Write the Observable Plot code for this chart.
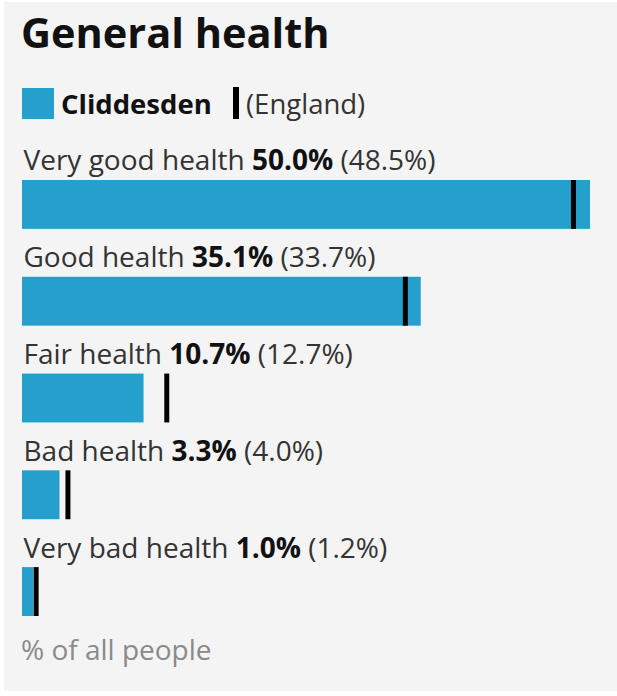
<!DOCTYPE html>
<html>
<head>
<meta charset="utf-8">
<script src="https://cdn.jsdelivr.net/npm/d3@7"></script>
<script src="https://cdn.jsdelivr.net/npm/@observablehq/plot@0.6"></script>
<style>
  html, body { margin: 0; padding: 0; background: #ffffff; }
  body { width: 617px; height: 696px; overflow: hidden; font-family: "Open Sans", sans-serif; }
  #panel { position: absolute; left: 4px; top: 2px; width: 613px; height: 689px; background: #f4f4f4; }
  #title { position: absolute; left: 17px; top: 10px; margin: 0; font-size: 41.5px; line-height: 1; font-weight: 700; color: #111; white-space: nowrap; }
  #legend { position: absolute; left: 0; top: 0; font-size: 27.5px; line-height: 1; color: #222; }
  #legend .sw { position: absolute; left: 18px; top: 86px; width: 32px; height: 31px; background: #259fcc; }
  #legend .nm { position: absolute; left: 57px; top: 88px; font-weight: 700; white-space: nowrap; color: #111; }
  #legend .mk { position: absolute; left: 229px; top: 85px; width: 6px; height: 32px; background: #000; }
  #legend .en { position: absolute; left: 242px; top: 88px; white-space: nowrap; color: #333; }
  #chart { position: absolute; left: -4px; top: 128px; }
  #foot { position: absolute; left: 17px; top: 633px; font-size: 28px; line-height: 1; color: #8a8a8a; white-space: nowrap; }
</style>
</head>
<body>
<div id="panel">
  <h2 id="title">General health</h2>
  <div id="legend"><span class="sw"></span><span class="nm">Cliddesden</span><span class="mk"></span><span class="en">(England)</span></div>
  <div id="chart"></div>
  <div id="foot">% of all people</div>
</div>
<script>
const categories = ["Very good health", "Good health", "Fair health", "Bad health", "Very bad health"];
const localValues = [50.0, 35.1, 10.7, 3.3, 1.0];
const englandValues = [48.5, 33.7, 12.7, 4.0, 1.2];

const data = categories.map((c, i) => ({category: c, value: localValues[i], england: englandValues[i]}));

const plot = Plot.plot({
  width: 617,
  height: 500,
  marginLeft: 22,
  marginRight: 27,
  marginTop: 0,
  marginBottom: 0,
  style: {background: "transparent", fontFamily: "Open Sans, sans-serif", overflow: "visible"},
  x: {domain: [0, 50], axis: null},
  y: {domain: categories, range: [50, 486], paddingInner: 0.4948, paddingOuter: 0, align: 0, round: false, axis: null},
  marks: [
    Plot.barX(data, {x: "value", y: "category", fill: "#259fcc"}),
    Plot.tickX(data, {x: "england", y: "category", stroke: "#000", strokeWidth: 5}),
    Plot.text(data, {
      x: 0, y: "category",
      text: d => d.category,
      textAnchor: "start", dx: 1, dy: -43.5, fontSize: 28, fill: "#333",
      className: "rowlabel"
    })
  ]
});
document.getElementById("chart").appendChild(plot);

// Rich labels: category (regular) + value (bold) + England value (regular)
d3.select(plot).selectAll("g.rowlabel text").each(function(_, i) {
  const d = data[i];
  const t = d3.select(this);
  t.text(null);
  t.append("tspan").text(d.category + " ");
  t.append("tspan").attr("font-weight", 700).attr("fill", "#111").text(d.value.toFixed(1) + "%");
  t.append("tspan").text(" (" + d.england.toFixed(1) + "%)");
});
</script>
</body>
</html>
